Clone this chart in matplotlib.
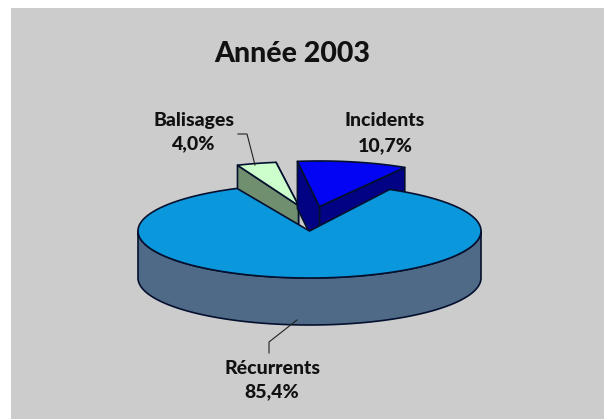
import numpy as np
import matplotlib
matplotlib.use("Agg")
import matplotlib.pyplot as plt
from matplotlib.patches import Polygon, Rectangle

categories = ["Récurrents", "Incidents", "Balisages"]
shares = [85.4, 10.7, 4.0]
value_labels = ["85,4%", "10,7%", "4,0%"]
title = "Année 2003"

W, H = 604, 419
BG = "#cccccc"
fig = plt.figure(figsize=(W / 100, H / 100), dpi=100, facecolor="white")
ax = fig.add_axes([0, 0, 1, 1])
ax.set_xlim(0, W)
ax.set_ylim(H, 0)
ax.axis("off")
ax.add_patch(Rectangle((11, 8), 593, 411, fc=BG, ec="none", zorder=0))

CX, CY, RX, RY, DEPTH = 309.5, 231.0, 171.5, 47.0, 47.0
EDGE = "#05102e"
start = 115.0  # angle at which Récurrents starts, running counter-clockwise
sweeps = [s * 360 / sum(shares) for s in shares]
spans = []
a = start
for sw in sweeps:
    spans.append((a, a + sw))
    a += sw
offset = {"Récurrents": (0, 0), "Incidents": (.058, .52), "Balisages": (-.064, .54)}
radius = {"Récurrents": 1.0, "Incidents": .97, "Balisages": .93}
turn = {"Récurrents": 0.0, "Incidents": -3.0, "Balisages": -2.5}
top_col = {"Récurrents": "#0a97dc", "Incidents": "#0404f4", "Balisages": "#ccffcc"}
side_col = {"Récurrents": "#4e6a87", "Incidents": "#020284", "Balisages": "#6f8f6f"}


def proj(theta, r, off, drop=0.0):
    t = np.radians(theta)
    return np.column_stack([
        CX + RX * (off[0] + r * np.cos(t)),
        CY - RY * (off[1] + r * np.sin(t)) + drop,
    ])


def apex(off, drop=0.0):
    return proj(np.array([0.0]), 0.0, off, drop)


def poly(pts, fc, z):
    ax.add_patch(Polygon(pts, closed=True, fc=fc, ec=EDGE, lw=1.2, joinstyle="round", zorder=z))


# exploded slices sit behind the main slice
for z, name in [(2, "Balisages"), (3, "Incidents")]:
    i = categories.index(name)
    t1, t2 = spans[i][0] + turn[name], spans[i][1] + turn[name]
    off, r = offset[name], radius[name]
    ts = np.linspace(t1, t2, 30)
    c1, c2 = proj(np.array([t1]), r, off), proj(np.array([t2]), r, off)
    d1, d2 = proj(np.array([t1]), r, off, DEPTH), proj(np.array([t2]), r, off, DEPTH)
    poly(np.vstack([apex(off), c1, d1, apex(off, DEPTH)]), side_col[name], z)
    poly(np.vstack([apex(off), c2, d2, apex(off, DEPTH)]), side_col[name], z)
    poly(np.vstack([apex(off), proj(ts, r, off)]), top_col[name], z + .5)

# main slice: rim then top
name = categories[0]
t1, t2 = spans[0]
off0 = offset[name]
front = np.linspace(180, 360, 120)
poly(np.vstack([proj(front, 1, off0), proj(front[::-1], 1, off0, DEPTH)]), side_col[name], 5)
ts = np.linspace(t1, t2, 300)
poly(np.vstack([apex(off0), proj(ts, 1, off0)]), top_col[name], 6)

font = dict(family="Lato", fontweight="black", color="#111111", ha="center", va="center")
ax.text(292, 54, title, fontsize=20.5, **font)
lab_pos = {"Balisages": (194, 120, 144), "Incidents": (385, 120, 146), "Récurrents": (272, 368, 392)}
for cat, val in zip(categories, value_labels):
    x, y1, y2 = lab_pos[cat]
    ax.text(x, y1, cat, fontsize=14, **font)
    ax.text(x, y2, val, fontsize=14, **font)

ax.plot([238, 247, 255], [134, 134, 165], color="#222222", lw=0.8, zorder=8)
ax.plot([297, 269, 269], [320, 342, 353], color="#222222", lw=0.8, zorder=8)

fig.savefig("out.png", dpi=100, facecolor="white")
